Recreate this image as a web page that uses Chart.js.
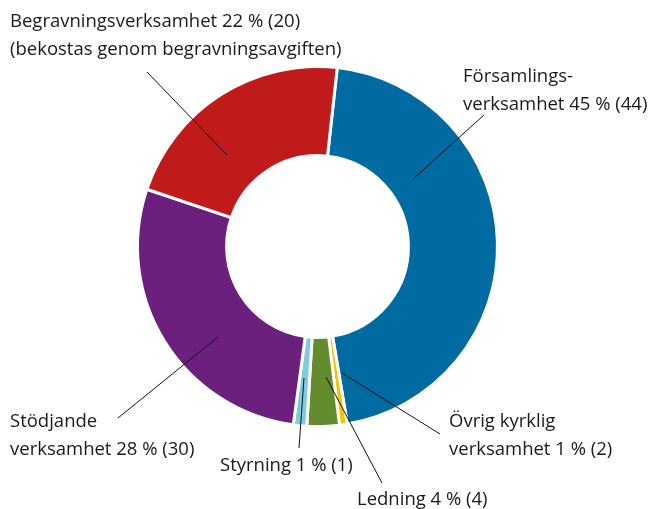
<!DOCTYPE html>
<html>
<head>
<meta charset="utf-8">
<script src="https://cdn.jsdelivr.net/npm/chart.js@4/dist/chart.umd.min.js"></script>
<style>
  html, body { margin: 0; padding: 0; background: #fff; }
</style>
</head>
<body>
<canvas id="myChart" width="653" height="509"></canvas>
<script>
// data (arc shares as drawn)
const categories = ['Församlingsverksamhet', 'Övrig kyrklig verksamhet', 'Ledning', 'Styrning', 'Stödjande verksamhet', 'Begravningsverksamhet'];
const shares = [45.6, 0.7, 2.9, 1.2, 28, 21.6];
const labelTexts = [
  ['Församlings-', 'verksamhet 45 % (44)'],
  ['Övrig kyrklig', 'verksamhet 1 % (2)'],
  ['Ledning 4 % (4)'],
  ['Styrning 1 % (1)'],
  ['Stödjande', 'verksamhet 28 % (30)'],
  ['Begravningsverksamhet 22 % (20)', '(bekostas genom begravningsavgiften)']
];
const colors = ['rgb(0,107,161)', 'rgb(249,194,0)', 'rgb(99,140,46)', 'rgb(125,203,222)', 'rgb(107,32,125)', 'rgb(191,27,27)'];

// callout layout: leader line and text anchor for each slice
const callouts = [
  { line: [413, 179, 484, 115], x: 463, y: 82 },
  { line: [342, 373, 440, 434], x: 449, y: 427 },
  { line: [326, 377, 382, 483], x: 357, y: 505 },
  { line: [304, 378, 299, 448], x: 220, y: 471 },
  { line: [218, 337, 118, 418], x: 10, y: 427 },
  { line: [227, 155, 147, 72], x: 10, y: 27 }
];

const calloutPlugin = {
  id: 'callouts',
  afterDraw(chart) {
    const c = chart.ctx;
    c.save();
    c.strokeStyle = '#111';
    c.lineWidth = 1;
    c.fillStyle = '#1a1a1a';
    c.font = '18.5px "Open Sans"';
    c.textBaseline = 'alphabetic';
    callouts.forEach((co, i) => {
      const [x1, y1, x2, y2] = co.line;
      c.beginPath();
      c.moveTo(x1, y1);
      c.lineTo(x2, y2);
      c.stroke();
      labelTexts[i].forEach((t, j) => c.fillText(t, co.x, co.y + j * 28));
    });
    c.restore();
  }
};

new Chart(document.getElementById('myChart'), {
  type: 'doughnut',
  data: {
    labels: categories,
    datasets: [{
      data: shares,
      backgroundColor: colors,
      borderColor: '#fff',
      borderWidth: 3
    }]
  },
  options: {
    responsive: false,
    animation: false,
    cutout: '50.5%',
    rotation: 6.3,
    layout: { padding: { top: 65, bottom: 81, left: 0, right: 18 } },
    plugins: {
      legend: { display: false },
      tooltip: { enabled: false }
    }
  },
  plugins: [calloutPlugin]
});
</script>
</body>
</html>
